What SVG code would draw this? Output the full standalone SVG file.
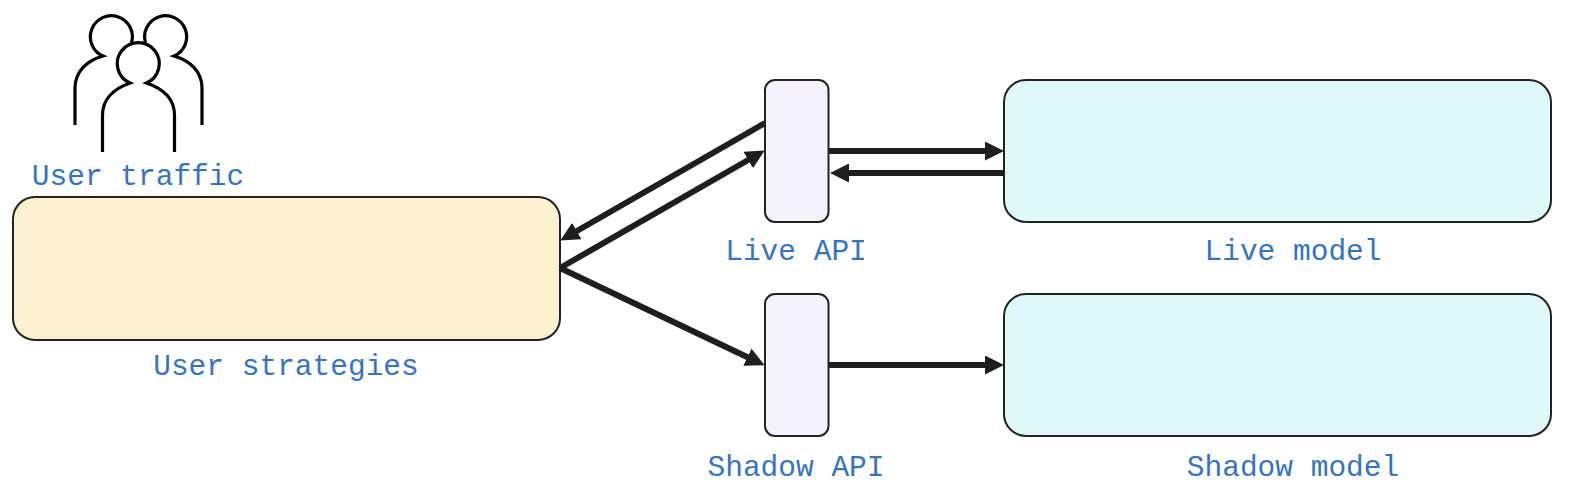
<svg xmlns="http://www.w3.org/2000/svg" width="1580" height="500" viewBox="0 0 1580 500">
<style>
text{font-family:"Liberation Mono","DejaVu Sans Mono",monospace;font-size:29.5px;fill:#3674c0;text-anchor:middle}
.n{stroke:#222;stroke-width:2}
.y{fill:#fcf2d0}.p{fill:#f4f2fd}.c{fill:#dff9f8}
.l{fill:none;stroke:#1e1e1e;stroke-width:6;marker-end:url(#a)}
.u{fill:none;stroke:#000;stroke-width:3.2}
</style>
<defs><marker id="a" viewBox="0 0 19 19" refX="9" refY="9.500" markerUnits="userSpaceOnUse" markerWidth="19" markerHeight="19" orient="auto"><path d="M0 0L19 9.500L0 19z" fill="#1e1e1e"/></marker></defs>
<rect width="1580" height="500" fill="#fff"/>
<g id="user-traffic">
<path class="u" d="M75 125V88C75 72 86 61 103 56A21 21 0 1 1 131.400 43"/>
<path class="u" d="M202 125V88C202 72 191 61 174 56A21 21 0 1 0 145.600 43"/>
<path class="u" d="M102.500 152V115C102.500 100 113 89 130 83A21 21 0 1 1 146.500 83C164 89 174.500 100 174.500 115V152"/>
<text x="138" y="185">User traffic</text>
</g>
<g id="user-strategies"><rect class="n y" x="13" y="197" width="547" height="143" rx="22"/><text x="286" y="375">User strategies</text></g>
<g id="live-api"><rect class="n p" x="765" y="80" width="63.500" height="142" rx="10"/><text x="796" y="260">Live API</text></g>
<g id="shadow-api"><rect class="n p" x="765" y="294" width="63.500" height="142" rx="10"/><text x="796" y="476">Shadow API</text></g>
<g id="live-model"><rect class="n c" x="1004" y="80" width="547" height="142" rx="22"/><text x="1293" y="260">Live model</text></g>
<g id="shadow-model"><rect class="n c" x="1004" y="294" width="547" height="142" rx="22"/><text x="1293" y="476">Shadow model</text></g>
<g id="connectors">
<path class="l" d="M765 123L569 235.500"/>
<path class="l" d="M560 268L756 155.500"/>
<path class="l" d="M560 268L755.500 361"/>
<path class="l" d="M829 151H994"/>
<path class="l" d="M1004 173H840"/>
<path class="l" d="M829 365H994"/>
</g>
</svg>
